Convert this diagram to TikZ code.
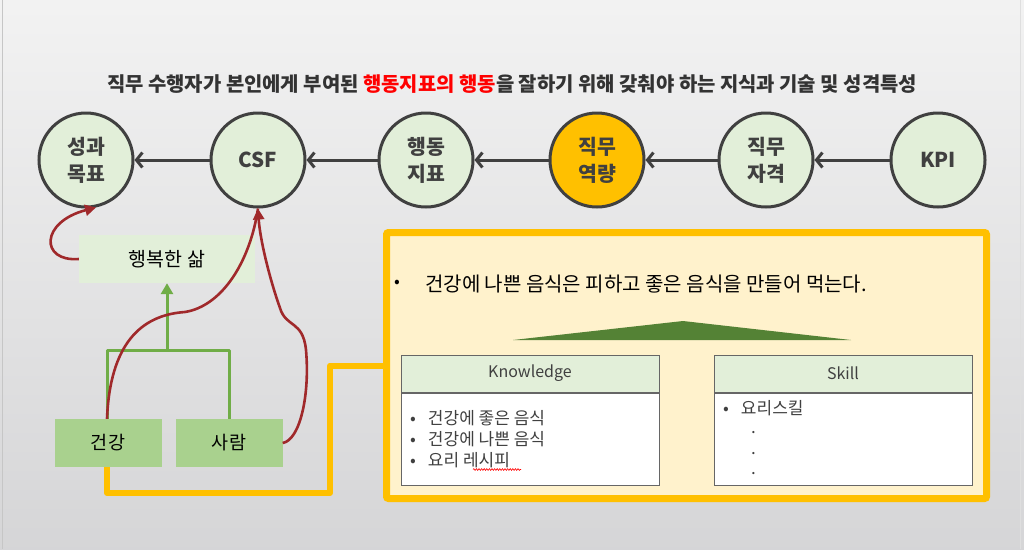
\documentclass[tikz,border=0pt]{standalone}
\usepackage{fontspec}
\setmainfont{Noto Sans CJK KR}
\usetikzlibrary{arrows.meta,decorations.pathmorphing}
\definecolor{dgray}{HTML}{404040}
\definecolor{lgreen}{HTML}{E2EFD9}
\definecolor{mgreen}{HTML}{A9D18E}
\definecolor{ggreen}{HTML}{70AD47}
\definecolor{dgreen}{HTML}{548235}
\definecolor{gold}{HTML}{FFC000}
\definecolor{lyellow}{HTML}{FFF2CC}
\definecolor{dred}{HTML}{A0292B}
\definecolor{tgray}{HTML}{333333}
\tikzset{
  circ/.style={circle, draw=dgray, line width=3pt, fill=lgreen, minimum size=94pt, inner sep=0pt, align=center, text=dgray, font=\bfseries\fontsize{20.5}{27}\selectfont},
  darr/.style={draw=dgray, line width=3pt, -{Straight Barb[length=6pt,width=15pt,line width=3pt]}},
  rarr/.style={draw=dred, line width=2.6pt, -{Triangle[length=11pt,width=11pt]}},
  rline/.style={draw=dred, line width=2.6pt},
  gline/.style={draw=ggreen, line width=3pt, line join=round},
  garr/.style={draw=ggreen, line width=3pt, -{Triangle[length=11pt,width=12pt]}},
  gbox/.style={fill=mgreen, minimum width=107pt, minimum height=48pt, inner sep=0pt, font=\fontsize{18.5}{20}\selectfont},
  yline/.style={draw=gold, line width=6pt, line join=round},
  thead/.style={draw=gray!80!black, line width=1pt, fill=lgreen, inner sep=0pt, text=dgray, font=\fontsize{16}{18}\selectfont},
  tbody/.style={draw=gray!80!black, line width=1pt, fill=white, inner sep=0pt},
  item/.style={anchor=west, inner sep=0pt, text=dgray, font=\fontsize{17}{18}\selectfont},
}
\begin{document}
\begin{tikzpicture}[x=1pt,y=-1pt]
\useasboundingbox (0,0) rectangle (1024,549);
\shade[top color=gray!10, bottom color=gray!30!blue!3!gray!32] (0,0) rectangle (1024,549);
\draw[gray!45, line width=1pt] (2,0) -- (2,549);
\draw[gray!25, line width=1pt] (1020,0) -- (1020,549);

% title
\node[font=\bfseries\fontsize{19.9}{22}\selectfont, text=tgray] (title) at (512,84)
  {직무 수행자가 본인에게 부여된 \textcolor{red}{행동지표의 행동}을 잘하기 위해 갖춰야 하는 지식과 기술 및 성격특성};

% circles
\node[circ] (c1) at (86,160) {성과\\목표};
\node[circ] (c2) at (258,160) {CSF};
\node[circ] (c3) at (426,160) {행동\\지표};
\node[circ, fill=gold] (c4) at (597,160) {직무\\역량};
\node[circ] (c5) at (766,160) {직무\\자격};
\node[circ] (c6) at (938,160) {KPI};
\draw[darr] (c2) -- (c1);
\draw[darr] (c3) -- (c2);
\draw[darr] (c4) -- (c3);
\draw[darr] (c5) -- (c4);
\draw[darr] (c6) -- (c5);

% left part
\node[fill=lgreen, minimum width=176pt, minimum height=48pt, inner sep=0pt, font=\fontsize{19.5}{21}\selectfont, text=black] (hb) at (167,259) {행복한 삶};
\node[gbox] (g1) at (108,443) {건강};
\node[gbox] (g2) at (229,443) {사람};
\coordinate (j) at (167,350);
\draw[gline] (g1.north -| 107,0) |- (j) -| (g2.north);
\draw[garr] (j) -- (j |- hb.south);

\draw[rarr] (hb.west) .. controls (40,262) and (40,222) .. (c1.-78);
\draw[rline] (g1.north -| 107,0) .. controls (110,345) and (140,315) .. (185,312)
  .. controls (222,306) and (250,262) .. (c2.south);
\draw[rarr] (g2.east) .. controls (300,440) and (310,395) .. (306,350)
  .. controls (303,320) and (286,328) .. (280,308)
  .. controls (270,280) and (260,240) .. (c2.south);

% yellow box
\node[draw=gold, line width=7pt, fill=lyellow, rounded corners=2pt, minimum width=600pt, minimum height=266pt, inner sep=0pt] (yb) at (686.5,365.5) {};
\draw[yline] (g1.south -| 107,0) |- (330,493) |- (yb.west);

\node[anchor=west, inner sep=0pt, font=\fontsize{17}{19}\selectfont] (bul) at (394,284) {•};
\node[anchor=west, inner sep=0pt, font=\fontsize{20}{22}\selectfont] (main) at (425,284) {건강에 나쁜 음식은 피하고 좋은 음식을 만들어 먹는다.};
\fill[dgreen] (513,340) -- (683,321) -- (851,340) -- cycle;

% knowledge table
\node[thead, minimum width=258pt, minimum height=37pt] (kh) at (530,373.5) {Knowledge};
\node[tbody, anchor=north, minimum width=258pt, minimum height=92pt] (kb) at (kh.south) {};
\node[item] (k1) at (410,418) {•\hspace{12pt}건강에 좋은 음식};
\node[item] (k2) at (410,439) {•\hspace{12pt}건강에 나쁜 음식};
\node[item] (k3) at (410,460) {•\hspace{12pt}요리 레시피};
\draw[red, line width=0.6pt, decorate, decoration={snake, amplitude=0.9pt, segment length=2.6pt}] (473,469.5) -- (521,469.5);

% skill table
\node[thead, minimum width=258pt, minimum height=37pt] (sh) at (843,373.5) {Skill};
\node[tbody, anchor=north, minimum width=258pt, minimum height=92pt] (sb) at (sh.south) {};
\node[item] (s1) at (723,408) {•\hspace{12pt}요리스킬};
\node[item] (d1) at (751,433) {.};
\node[item] (d2) at (751,454) {.};
\node[item] (d3) at (751,474) {.};
\end{tikzpicture}
\end{document}
